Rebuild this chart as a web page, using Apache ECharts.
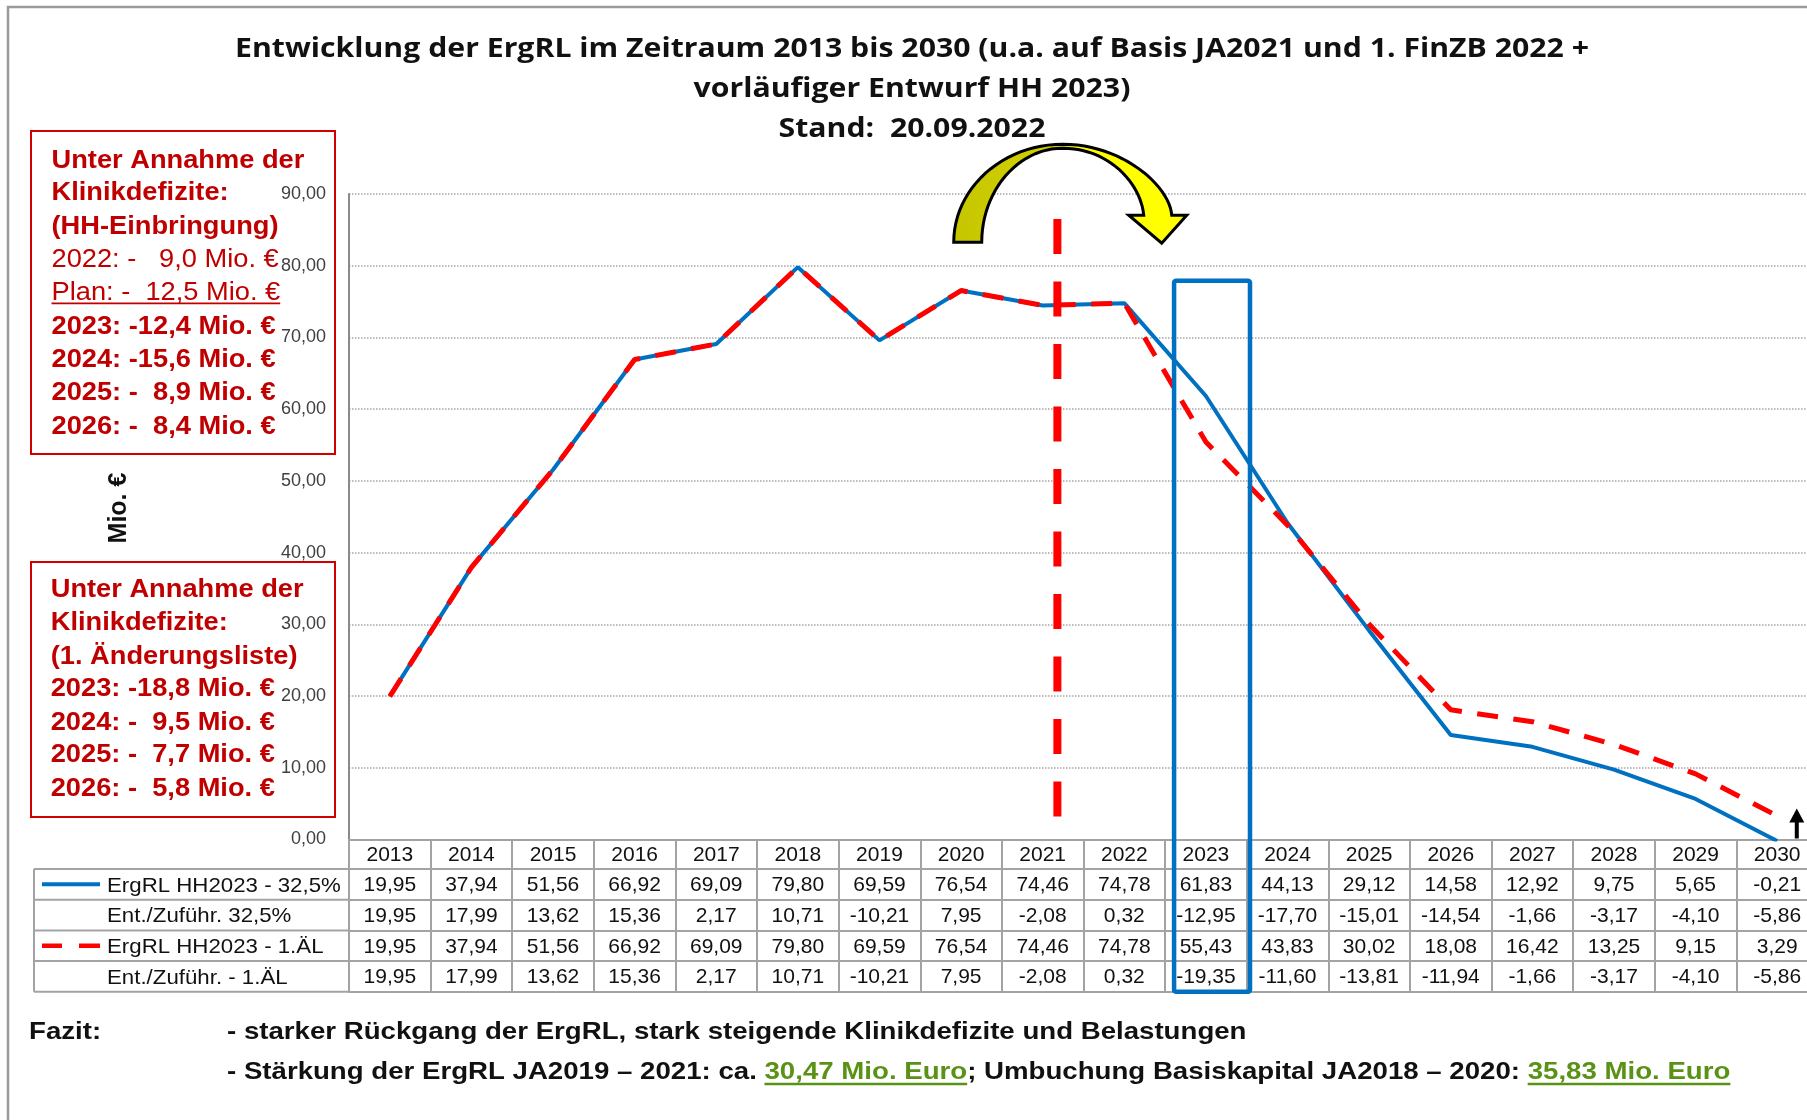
<!DOCTYPE html>
<html><head><meta charset="utf-8">
<script src="https://cdn.jsdelivr.net/npm/echarts@6/dist/echarts.min.js"></script>
<style>html,body{margin:0;padding:0;background:#fff}#c{width:1807px;height:1120px}</style>
</head><body><div id="c"></div>
<script>
// ---------------- data ----------------
const years = ['2013','2014','2015','2016','2017','2018','2019','2020','2021','2022','2023','2024','2025','2026','2027','2028','2029','2030'];
const ergrl325 = [19.95,37.94,51.56,66.92,69.09,79.80,69.59,76.54,74.46,74.78,61.83,44.13,29.12,14.58,12.92,9.75,5.65,-0.21];
const entZu325 = [19.95,17.99,13.62,15.36,2.17,10.71,-10.21,7.95,-2.08,0.32,-12.95,-17.70,-15.01,-14.54,-1.66,-3.17,-4.10,-5.86];
const ergrlAEL = [19.95,37.94,51.56,66.92,69.09,79.80,69.59,76.54,74.46,74.78,55.43,43.83,30.02,18.08,16.42,13.25,9.15,3.29];
const entZuAEL = [19.95,17.99,13.62,15.36,2.17,10.71,-10.21,7.95,-2.08,0.32,-19.35,-11.60,-13.81,-11.94,-1.66,-3.17,-4.10,-5.86];
const rowNames = ['ErgRL HH2023 - 32,5%','Ent./Zuführ. 32,5%','ErgRL HH2023 - 1.ÄL','Ent./Zuführ. - 1.ÄL'];
const yMin = 0, yMax = 90, yStep = 10;
const yAxisName = 'Mio. €';
const titleLines = ['Entwicklung der ErgRL im Zeitraum 2013 bis 2030 (u.a. auf Basis JA2021 und 1. FinZB 2022 +','vorläufiger Entwurf HH 2023)','Stand:  20.09.2022'];
const box1Lines = [
  ['Unter Annahme der','b'],['Klinikdefizite:','b'],['(HH-Einbringung)','b'],
  ['2022: -   9,0 Mio. €','n'],['Plan: -  12,5 Mio. €','u'],
  ['2023: -12,4 Mio. €','b'],['2024: -15,6 Mio. €','b'],['2025: -  8,9 Mio. €','b'],['2026: -  8,4 Mio. €','b']];
const box2Lines = [
  ['Unter Annahme der','b'],['Klinikdefizite:','b'],['(1. Änderungsliste)','b'],
  ['2023: -18,8 Mio. €','b'],['2024: -  9,5 Mio. €','b'],['2025: -  7,7 Mio. €','b'],['2026: -  5,8 Mio. €','b']];
const fazitLabel = 'Fazit:';
const fazit1 = '- starker Rückgang der ErgRL, stark steigende Klinikdefizite und Belastungen';
const fazit2 = [['- Stärkung der ErgRL JA2019 – 2021: ca. ',false],['30,47 Mio. Euro',true],['; Umbuchung Basiskapital JA2018 – 2020: ',false],['35,83 Mio. Euro',true]];

// ---------------- helpers ----------------
const fmt = v => v.toFixed(2).replace('.', ',');
const tableRows = [ergrl325, entZu325, ergrlAEL, entZuAEL];
const HEADER_H = 29.5, ROW_H = 30.7;
const GRAY = '#a3a3a3';
const RED = '#C00000';
const FF = '"Liberation Sans", Arial, sans-serif';
const mctx = document.createElement('canvas').getContext('2d');
function tw(text, font){ mctx.font = font; return mctx.measureText(text).width; }

function rowAxis(offset, formatter, showLabel, tickLen, margin){
  return {type:'category', gridIndex:0, data: years, position:'bottom', offset: offset, boundaryGap:true,
    axisLine:{show:true, lineStyle:{color:GRAY, width:2}},
    axisTick:{show: tickLen > 0, length: tickLen, interval:0, inside:false, lineStyle:{color:GRAY, width:2}},
    axisLabel:{show: showLabel, interval:0, margin: margin, formatter: formatter, color:'#111', fontFamily:FF, fontSize:21},
    splitLine:{show:false}};
}
const xAxes = [rowAxis(0, (v) => v, true, HEADER_H, 5)];
tableRows.forEach((arr, r) => xAxes.push(rowAxis(HEADER_H + r*ROW_H, (v, i) => fmt(arr[i]), true, ROW_H, 6)));
xAxes.push(rowAxis(HEADER_H + 4*ROW_H, () => '', false, 0, 5));

const chart = echarts.init(document.getElementById('c'), null, {renderer:'canvas', width:1807, height:1120});
chart.setOption({
  backgroundColor:'#ffffff',
  animation:false,
  grid:{left:349, top:194, width:1469, height:645.5, containLabel:false, outerBoundsMode:'none'},
  xAxis: xAxes,
  yAxis:{type:'value', min:yMin, max:yMax, interval:yStep,
    axisLine:{show:true, lineStyle:{color:'#8a8a8a', width:2}},
    axisTick:{show:false},
    axisLabel:{formatter: v => fmt(v), color:'#404040', fontFamily:FF, fontSize:18, margin:23, padding:[6,0,0,0]},
    splitLine:{show:true, lineStyle:{color:'#a6a6a6', type:'dotted', width:1.5}}},
  series:[
    {type:'line', name:rowNames[0], data:ergrl325, xAxisIndex:0, yAxisIndex:0, symbol:'none', z:3,
      lineStyle:{color:'#0070C0', width:4}},
    {type:'line', name:rowNames[2], data:ergrlAEL, xAxisIndex:0, yAxisIndex:0, symbol:'none', z:4,
      lineStyle:{color:'#FF0000', width:5, type:[21,15.5]}}
  ]
});

// ---------------- annotations ----------------
const P = (i, v) => chart.convertToPixel({xAxisIndex:0, yAxisIndex:0}, [i, v]);
const px = i => P(i, 0)[0];
const py = v => P(0, v)[1];
const catW = px(1) - px(0);
const gridLeft = px(0) - catW/2;
const y0 = py(0);
const tableTop = y0 + HEADER_H;
const tableBottom = y0 + HEADER_H + 4*ROW_H;

const G = [];
function T(text, x, y, font, fill, o){
  o = o || {};
  const al = o.align || 'left';
  return {type:'text', x:x, y:y, z:o.z||30, scaleX:o.sx||1, rotation:o.rot||0,
    style:{text:text, font:font, fill:fill, align:al, textAlign:al, verticalAlign:'middle', textVerticalAlign:'middle'}};
}
function L(x1,y1,x2,y2,stroke,w,o){
  o = o || {};
  return {type:'line', z:o.z||25, shape:{x1:x1,y1:y1,x2:x2,y2:y2}, style:{stroke:stroke, lineWidth:w, lineDash:o.dash||null, lineCap:'butt'}};
}

// outer frame
G.push({type:'rect', z:1, shape:{x:8, y:7, width:1900, height:1300}, style:{fill:'none', stroke:'#9a9a9a', lineWidth:2.5}});

// title
const titleFont = 'bold 26px "Open Sans", sans-serif';
const tS = 1354 / tw(titleLines[0], titleFont);
[49.2, 89.6, 130].forEach((yy, k) => G.push(T(titleLines[k], 912, yy, titleFont, '#111', {align:'center', sx:tS})));

// y axis name
G.push(T(yAxisName, 119, 508, 'bold 25px ' + FF, '#111', {align:'center', rot:Math.PI/2}));

// red boxes
const bxS = 1.09;
function redBox(x, y, w, h, tx, lines, ys){
  G.push({type:'rect', z:5, shape:{x:x, y:y, width:w, height:h}, style:{fill:'none', stroke:'#D00000', lineWidth:2}});
  lines.forEach((ln, k) => {
    const font = (ln[1] === 'b' ? 'bold ' : '') + '25px ' + FF;
    G.push(T(ln[0], tx, ys[k], font, RED, {sx:bxS}));
    if (ln[1] === 'u') {
      const wd = tw(ln[0], font) * bxS;
      G.push(L(tx, ys[k]+10, tx+wd, ys[k]+10, RED, 1.6, {z:30}));
    }
  });
}
redBox(31, 131, 304, 323, 51.5, box1Lines, [160.9,193.2,227.2,260,293.4,326.8,360.2,393.6,427]);
redBox(31, 562, 304, 255, 50.7, box2Lines, [590.4,622.7,657,689.5,722.9,755.2,789.5]);

// legend column of the data table
for (let r = 0; r <= 4; r++) G.push(L(34, tableTop + r*ROW_H, gridLeft, tableTop + r*ROW_H, GRAY, 2, {z:6}));
G.push(L(34, tableTop, 34, tableBottom, GRAY, 2, {z:6}));
const legFont = '21px ' + FF;
rowNames.forEach((nm, r) => G.push(T(nm, 107, tableTop + r*ROW_H + ROW_H/2 + 1.5, legFont, '#111', {sx:1.06})));
const rc0 = tableTop + ROW_H/2, rc2 = tableTop + 2.5*ROW_H;
G.push(L(42, rc0, 100, rc0, '#0070C0', 4, {z:30}));
G.push(L(42, rc2, 62, rc2, '#FF0000', 4.5, {z:30}));
G.push(L(79, rc2, 100, rc2, '#FF0000', 4.5, {z:30}));

// vertical red dashed marker after 2021
const vx = px(8) + 0.18*catW;
G.push(L(vx, py(86.5), vx, py(2.65), '#FF0000', 8, {z:12, dash:[35,27.5]}));

// blue frame around 2023
const bx1 = px(10) - 0.39*catW, bx2 = px(10) + 0.54*catW, by1 = py(77.9);
G.push({type:'rect', z:14, shape:{x:bx1, y:by1, width:bx2-bx1, height:tableBottom-by1, r:2}, style:{fill:'none', stroke:'#0070C0', lineWidth:4.5}});

// curved yellow arrow
function bez(p0,p1,p2,p3,n){
  const out = [];
  for (let k = 0; k <= n; k++){
    const t = k/n, u = 1-t;
    out.push([u*u*u*p0[0]+3*u*u*t*p1[0]+3*u*t*t*p2[0]+t*t*t*p3[0], u*u*u*p0[1]+3*u*u*t*p1[1]+3*u*t*t*p2[1]+t*t*t*p3[1]]);
  }
  return out;
}
const ax = px(8) + 0.27*catW - 1064 - 2, ay = py(80) - 265.5 + 1;
let pts = [];
pts = pts.concat(bez([955,241],[955,187],[1004,143],[1064,143],24));
pts = pts.concat(bez([1064,143],[1124,143],[1171,185],[1173,214],24).slice(1));
pts.push([1188,214],[1163,242],[1130,214],[1145,214]);
pts = pts.concat(bez([1145,214],[1142,182],[1110,147],[1064,147],24).slice(1));
pts = pts.concat(bez([1064,147],[1019,147],[983,190],[983,241],24).slice(1));
pts = pts.map(p => [p[0]+ax, p[1]+ay]);
G.push({type:'polygon', z:16, shape:{points:pts}, style:{
  fill:{type:'linear', x:0, y:0, x2:1, y2:0, colorStops:[{offset:0,color:'#c6c600'},{offset:0.47,color:'#d2d200'},{offset:0.53,color:'#ffff00'},{offset:1,color:'#ffff00'}]},
  stroke:'#000', lineWidth:3, lineJoin:'miter'}});

// small black up arrow at 2030
const ux = px(17) + 0.24*catW, uy = y0;
G.push({type:'polygon', z:16, shape:{points:[[ux-2,uy-1],[ux-2,uy-17],[ux-7.5,uy-17],[ux,uy-31],[ux+7.5,uy-17],[ux+2,uy-17],[ux+2,uy-1]]}, style:{fill:'#000'}});

// Fazit
const fzFont = 'bold 24px ' + FF;
const fzS = 1019.5 / tw(fazit1, fzFont);
G.push(T(fazitLabel, 29, 1032.7, fzFont, '#111', {sx:fzS}));
G.push(T(fazit1, 227, 1032.7, fzFont, '#111', {sx:fzS}));
let cx = 227;
const GREEN = '#5a9216';
fazit2.forEach(seg => {
  const w = tw(seg[0], fzFont) * fzS;
  G.push(T(seg[0], cx, 1072.2, fzFont, seg[1] ? GREEN : '#111', {sx:fzS}));
  if (seg[1]) G.push(L(cx, 1084, cx + w, 1084, GREEN, 2.5, {z:30}));
  cx += w;
});

chart.setOption({graphic:{elements:G}});
</script>
</body></html>
